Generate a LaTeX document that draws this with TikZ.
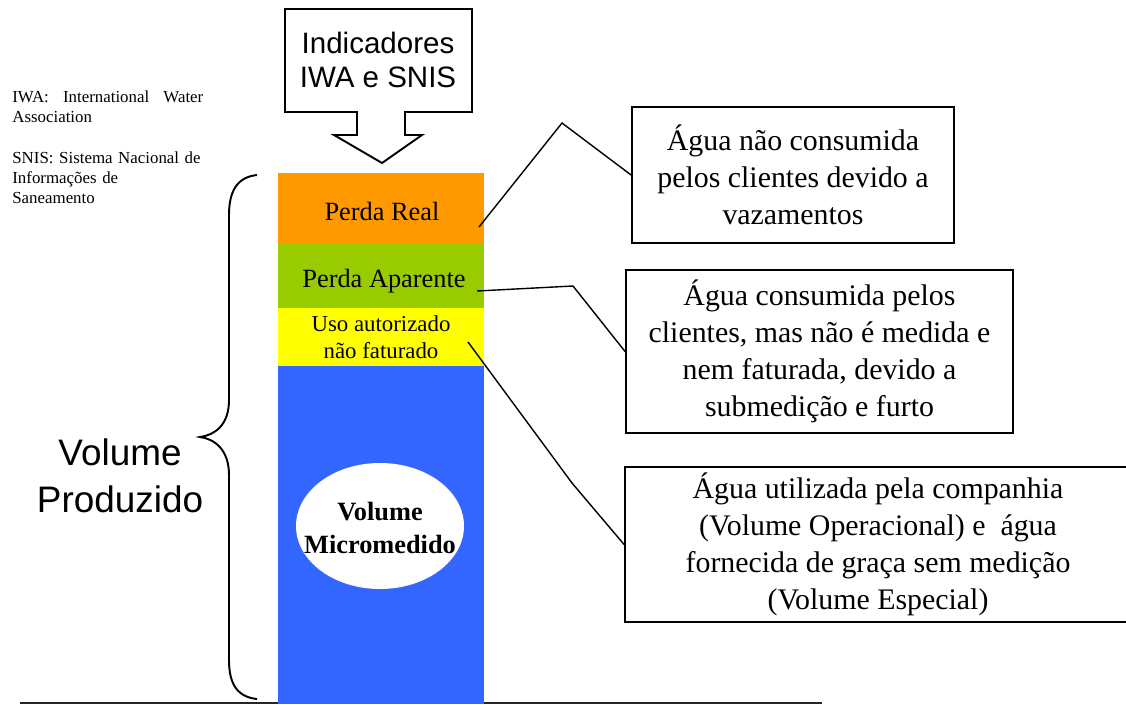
\documentclass[tikz,border=0pt]{standalone}
\usepackage{fontspec}
\setmainfont{Liberation Serif}
\setsansfont{Liberation Sans}
\definecolor{realcolor}{HTML}{FF9900}
\definecolor{aparentecolor}{HTML}{99CC00}
\definecolor{usocolor}{HTML}{FFFF00}
\definecolor{microcolor}{HTML}{3366FF}

\begin{document}
\begin{tikzpicture}[x=0.02cm,y=-0.02cm,
	boxstyle/.style={draw,line width=1.1pt,align=center,inner sep=0pt,font=\fontsize{17}{21}\selectfont},
	layerstyle/.style={align=center,inner sep=0pt,font=\fontsize{15}{18}\selectfont}]
	\useasboundingbox (0,0) rectangle (1126,704);
	\draw[black!85,line width=1.2pt] (20,703) -- (822,703);
	\foreach \ya/\yb/\col in {173/243/realcolor,243/308/aparentecolor,308/366/usocolor,366/704/microcolor}
		\fill[\col] (278,\ya) rectangle (484,\yb);

	\draw[line width=1.1pt,fill=white] (285,9) -- (472,9) -- (472,112) -- (405,112) -- (405,135) -- (422,135)
		-- (382,163) -- (334,135) -- (357,135) -- (357,112) -- (285,112) -- cycle;
	\node[align=center,font=\sffamily\fontsize{16.8}{19.8}\selectfont] (indicadores) at (378,60) {Indicadores\\IWA e SNIS};

	\node[anchor=north west,inner sep=0pt,text width=3.82cm,align=left,font=\fontsize{9.6}{11.6}\selectfont] (siglas) at (12,90)
		{IWA:\hfill International\hfill Water\\Association\\[11.6pt]SNIS: Sistema Nacional de\\Informações de\\Saneamento};

	\draw[line width=1.1pt] (257,175) .. controls (238,177) and (229,190) .. (229,215) -- (229,400)
		.. controls (229,425) and (215,435) .. (200,437) .. controls (215,439) and (229,450) .. (229,475)
		-- (229,660) .. controls (229,685) and (238,697) .. (257,699);
	\node[align=center,font=\sffamily\fontsize{21}{27}\selectfont] (produzido) at (120,476) {Volume\\Produzido};

	\node[layerstyle] (real) at (382,211) {Perda Real};
	\node[layerstyle] (aparente) at (384,281) {Perda Aparente};
	\node[layerstyle,font=\fontsize{13}{15.3}\selectfont] (uso) at (381,337) {Uso autorizado\\não faturado};
	\fill[white] (380,526) ellipse [x radius=84,y radius=63];
	\node[align=center,inner sep=0pt,font=\bfseries\fontsize{15}{18.5}\selectfont] (micromedido) at (380,528) {Volume\\Micromedido};

	\node[boxstyle,minimum width=6.44cm,minimum height=2.72cm] (vazamento) at (793,175)
		{Água não consumida\\pelos clientes devido a\\vazamentos};
	\node[boxstyle,minimum width=7.74cm,minimum height=3.26cm] (furto) at (819.5,351.5)
		{Água consumida pelos\\clientes, mas não é medida e\\nem faturada, devido a\\submedição e furto};
	\node[boxstyle,minimum width=10.12cm,minimum height=3.1cm] (especial) at (878,544.5)
		{Água utilizada pela companhia\\(Volume Operacional) e\ \ água\\fornecida de graça sem medição\\(Volume Especial)};

	\coordinate (preal) at (479,227);
	\coordinate (paparente) at (477,291);
	\coordinate (puso) at (468,342);
	\draw[line width=0.8pt] (preal) -- (562,123) -- (vazamento.west);
	\draw[line width=0.8pt] (paparente) -- (573,286) -- (furto.west);
	\draw[line width=0.8pt] (puso) -- (572,483) -- (especial.west);
\end{tikzpicture}
\end{document}
